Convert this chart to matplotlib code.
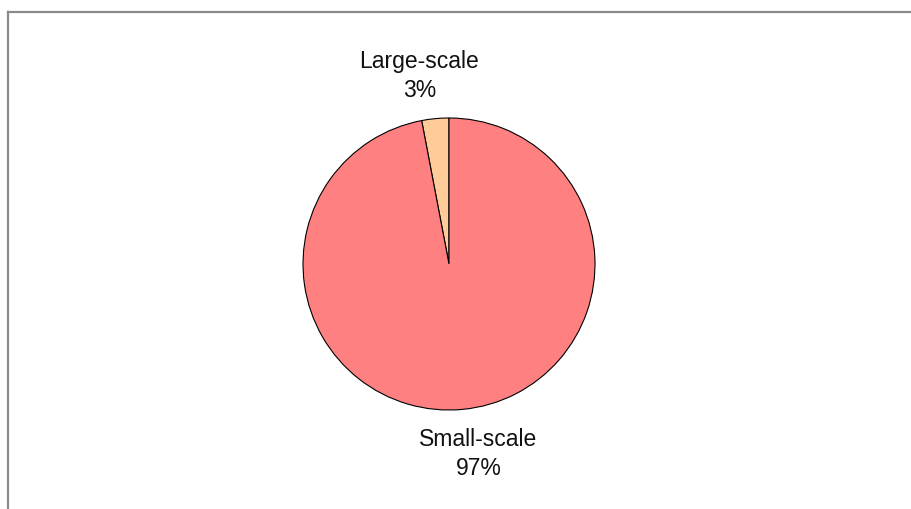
import matplotlib
matplotlib.use("Agg")
import numpy as np
import matplotlib.pyplot as plt
from matplotlib.lines import Line2D

categories = ["Large-scale", "Small-scale"]
shares = [3, 97]
colors = ["#FFCC99", "#FF8080"]

plt.rcParams['font.family'] = ['Liberation Sans', 'DejaVu Sans']

W, H = 912, 510
fig = plt.figure(figsize=(W / 100, H / 100), dpi=100)

# pie centre and radius in pixels, axes sized so one data unit = radius
cx, cy, r = 449, 265, 146
half = 1.5 * r
ax = fig.add_axes([(cx - half) / W, (H - cy - half) / H, 2 * half / W, 2 * half / H])

wedges, _ = ax.pie(shares, colors=colors, startangle=90, counterclock=True,
                   wedgeprops=dict(edgecolor="black", linewidth=0.8))

# labels sit outside each wedge, nudged a little counter-clockwise
for w, cat, val in zip(wedges, categories, shares):
    ang = np.deg2rad((w.theta1 + w.theta2) / 2 + 3.5)
    ax.text(1.31 * np.cos(ang), 1.31 * np.sin(ang), f"{cat}\n{val:.0f}%",
            ha="center", va="center", fontsize=16.5, color="#111111",
            linespacing=1.3)

ax.set_xlim(-1.5, 1.5)
ax.set_ylim(-1.5, 1.5)
ax.set_aspect("equal")
ax.axis("off")

# outer frame (left and top edges)
gray = "#8a8a8a"
fig.add_artist(Line2D([8.5 / W, 8.5 / W], [0, 1 - 12.5 / H], color=gray, lw=1.6))
fig.add_artist(Line2D([8.5 / W, 1], [1 - 12.5 / H, 1 - 12.5 / H], color=gray, lw=1.6))

fig.savefig("out.png", dpi=100)
